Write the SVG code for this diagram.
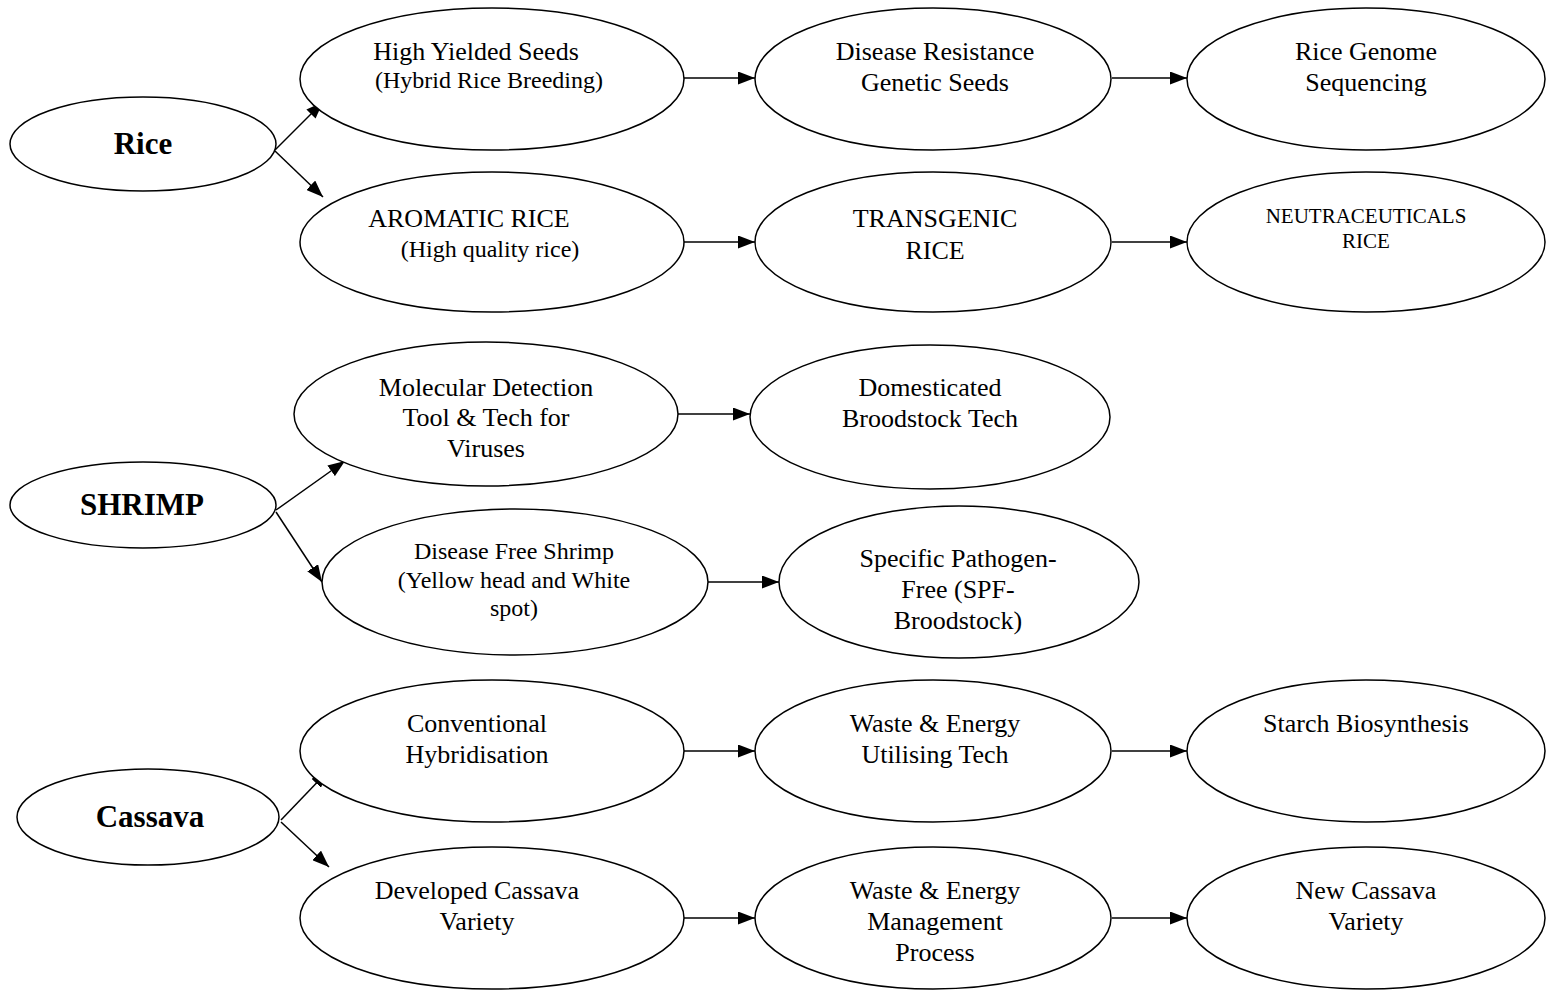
<svg xmlns="http://www.w3.org/2000/svg" width="1546" height="990" viewBox="0 0 1546 990">
<style>
ellipse{fill:#fff;stroke:#000;stroke-width:1.5}
text{font-family:"Liberation Serif","Times New Roman",serif;fill:#000;text-anchor:middle;font-size:26px}
.b{font-weight:bold;font-size:31px}
.s{font-size:24px}
.xs{font-size:21px}
.c line{stroke:#000;stroke-width:1.5;marker-end:url(#ah)}
</style>
<defs>
<marker id="ah" markerWidth="17" markerHeight="13" refX="17" refY="6.5" orient="auto" markerUnits="userSpaceOnUse">
<path d="M0,0 L17,6.5 L0,13 Z" fill="#000"/>
</marker>
</defs>
<rect width="1546" height="990" fill="#fff"/>
<g class="c" id="connectors">
<line x1="275" y1="150" x2="323" y2="102"/>
<line x1="275" y1="151" x2="323" y2="197"/>
<line x1="684" y1="78" x2="755" y2="78"/>
<line x1="1112" y1="78" x2="1187" y2="78"/>
<line x1="684" y1="242" x2="755" y2="242"/>
<line x1="1112" y1="242" x2="1187" y2="242"/>
<line x1="276" y1="510" x2="345" y2="461"/>
<line x1="276" y1="512" x2="322" y2="582"/>
<line x1="678" y1="414" x2="750" y2="414"/>
<line x1="707" y1="582" x2="779" y2="582"/>
<line x1="281" y1="820" x2="328" y2="771"/>
<line x1="281" y1="822" x2="329" y2="867"/>
<line x1="684" y1="751" x2="755" y2="751"/>
<line x1="1112" y1="751" x2="1187" y2="751"/>
<line x1="684" y1="918" x2="755" y2="918"/>
<line x1="1112" y1="918" x2="1187" y2="918"/>
</g>
<g id="rice"><ellipse cx="143" cy="144" rx="133" ry="47"/><text class="b" x="143" y="154">Rice</text></g>
<g id="high-yield"><ellipse cx="492" cy="79" rx="192" ry="71"/><text x="476" y="60">High Yielded Seeds</text><text class="s" x="489" y="88">(Hybrid Rice Breeding)</text></g>
<g id="aromatic"><ellipse cx="492" cy="242" rx="192" ry="70"/><text x="469" y="227">AROMATIC RICE</text><text class="s" x="490" y="257">(High quality rice)</text></g>
<g id="disease-resistance"><ellipse cx="933" cy="79" rx="178" ry="71"/><text x="935" y="60">Disease Resistance</text><text x="935" y="91">Genetic Seeds</text></g>
<g id="genome"><ellipse cx="1366" cy="79" rx="179" ry="71"/><text x="1366" y="60">Rice Genome</text><text x="1366" y="91">Sequencing</text></g>
<g id="transgenic"><ellipse cx="933" cy="242" rx="178" ry="70"/><text x="935" y="227">TRANSGENIC</text><text x="935" y="259">RICE</text></g>
<g id="neutraceuticals"><ellipse cx="1366" cy="242" rx="179" ry="70"/><text class="xs" x="1366" y="223">NEUTRACEUTICALS</text><text class="xs" x="1366" y="248">RICE</text></g>
<g id="shrimp"><ellipse cx="143" cy="505" rx="133" ry="43"/><text class="b" x="142" y="515">SHRIMP</text></g>
<g id="molecular"><ellipse cx="486" cy="414" rx="192" ry="72"/><text x="486" y="396">Molecular Detection</text><text x="486" y="426">Tool &amp; Tech for</text><text x="486" y="457">Viruses</text></g>
<g id="domesticated"><ellipse cx="930" cy="417" rx="180" ry="72"/><text x="930" y="396">Domesticated</text><text x="930" y="427">Broodstock Tech</text></g>
<g id="disease-free"><ellipse cx="515" cy="582" rx="193" ry="73"/><text class="s" x="514" y="559">Disease Free Shrimp</text><text class="s" x="514" y="588">(Yellow head and White</text><text class="s" x="514" y="616">spot)</text></g>
<g id="spf"><ellipse cx="959" cy="582" rx="180" ry="76"/><text x="958" y="567">Specific Pathogen-</text><text x="958" y="598">Free (SPF-</text><text x="958" y="629">Broodstock)</text></g>
<g id="cassava"><ellipse cx="148" cy="817" rx="131" ry="48"/><text class="b" x="150" y="827">Cassava</text></g>
<g id="conventional"><ellipse cx="492" cy="751" rx="192" ry="71"/><text x="477" y="732">Conventional</text><text x="477" y="763">Hybridisation</text></g>
<g id="waste-util"><ellipse cx="933" cy="751" rx="178" ry="71"/><text x="935" y="732">Waste &amp; Energy</text><text x="935" y="763">Utilising Tech</text></g>
<g id="starch"><ellipse cx="1366" cy="751" rx="179" ry="71"/><text x="1366" y="732">Starch Biosynthesis</text></g>
<g id="developed"><ellipse cx="492" cy="918" rx="192" ry="71"/><text x="477" y="899">Developed Cassava</text><text x="477" y="930">Variety</text></g>
<g id="waste-mgmt"><ellipse cx="933" cy="918" rx="178" ry="71"/><text x="935" y="899">Waste &amp; Energy</text><text x="935" y="930">Management</text><text x="935" y="961">Process</text></g>
<g id="new-cassava"><ellipse cx="1366" cy="918" rx="179" ry="71"/><text x="1366" y="899">New Cassava</text><text x="1366" y="930">Variety</text></g>
</svg>
